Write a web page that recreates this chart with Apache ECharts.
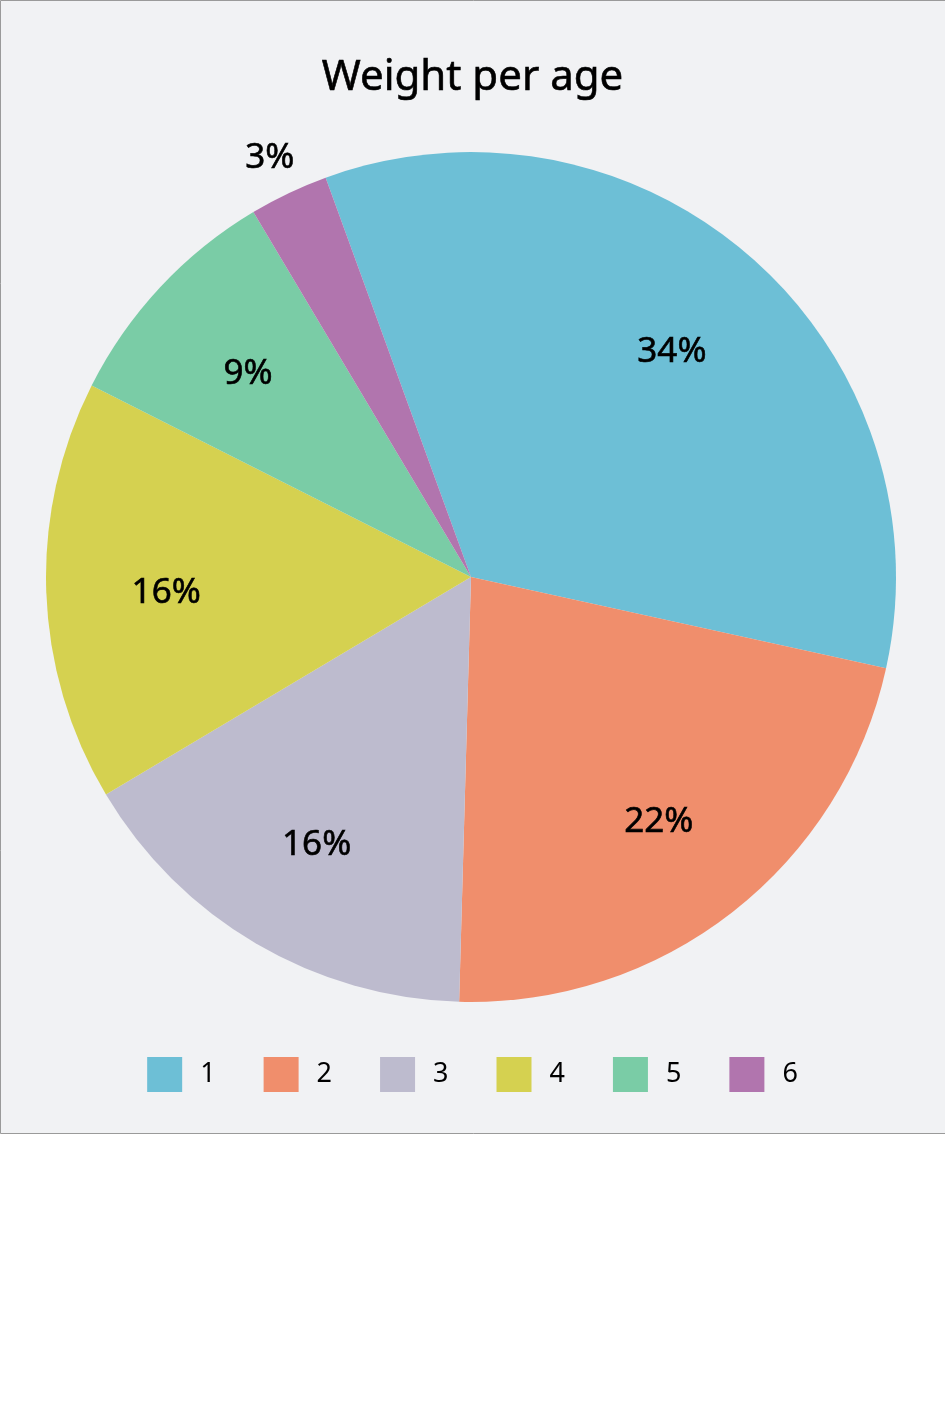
<!DOCTYPE html>
<html>
<head>
<meta charset="utf-8">
<script src="https://cdn.jsdelivr.net/npm/echarts@6/dist/echarts.min.js"></script>
<style>
  html, body { margin: 0; padding: 0; background: #ffffff; }
  #chart { width: 945px; height: 1418px; }
</style>
</head>
<body>
<div id="chart"></div>
<script>
const titleText = 'Weight per age';
const categories = ['1', '2', '3', '4', '5', '6'];
const values = [34, 22, 16, 16, 9, 3];
const colors = ['#6dbfd6', '#f08e6c', '#bdbbce', '#d5d150', '#7acca6', '#b175ae'];
const outsideLabelIdx = [5];

const chart = echarts.init(document.getElementById('chart'), null, { renderer: 'canvas' });

const CX = 471, CY = 577, R = 425;
const fmt = p => Math.round(p.percent) + '%';
const labelFont = {
  fontFamily: 'Noto Sans', fontSize: 35, color: '#000000',
  textBorderColor: '#000000', textBorderWidth: 0.6
};

const mainData = categories.map((c, i) => ({ name: c, value: values[i], itemStyle: { color: colors[i] } }));
const innerLabelData = values.map((v, i) => ({
  name: '', value: v,
  label: { show: outsideLabelIdx.indexOf(i) < 0 }
}));
const outerLabelData = values.map((v, i) => ({
  name: '', value: v,
  label: { show: outsideLabelIdx.indexOf(i) >= 0 }
}));

const labelSeriesBase = {
  type: 'pie',
  center: [CX, CY],
  startAngle: 110,
  clockwise: true,
  silent: true,
  itemStyle: { color: 'rgba(0,0,0,0)' },
  labelLine: { show: false },
  labelLayout: { dy: 5 },
  emphasis: { disabled: true },
  label: Object.assign({ position: 'inside', formatter: fmt }, labelFont)
};

chart.setOption({
  animation: false,
  backgroundColor: 'transparent',
  graphic: [{
    type: 'rect', z: -100, silent: true,
    shape: { x: 0.5, y: 0.5, width: 946, height: 1133 },
    style: { fill: '#f1f2f4', stroke: '#9a9a9a', lineWidth: 1 }
  }],
  title: {
    text: titleText,
    left: 'center',
    top: 57,
    padding: 0,
    textStyle: {
      fontFamily: 'Noto Sans', fontSize: 42, fontWeight: 'normal', color: '#000000',
      textBorderColor: '#000000', textBorderWidth: 0.6
    }
  },
  legend: {
    data: categories,
    left: 'center',
    top: 1057,
    padding: 0,
    itemWidth: 35,
    itemHeight: 35,
    itemGap: 48,
    icon: 'rect',
    textStyle: { fontFamily: 'Noto Sans', fontSize: 27, color: '#000000', padding: [0, 0, 0, 13] }
  },
  series: [
    {
      type: 'pie',
      name: 'main',
      center: [CX, CY],
      radius: [0, R],
      startAngle: 110,
      clockwise: true,
      data: mainData,
      label: { show: false },
      labelLine: { show: false },
      emphasis: { scale: false }
    },
    Object.assign({}, labelSeriesBase, { radius: [179, R], data: innerLabelData }),
    Object.assign({}, labelSeriesBase, { radius: [445, 487], data: outerLabelData })
  ]
});
</script>
</body>
</html>
